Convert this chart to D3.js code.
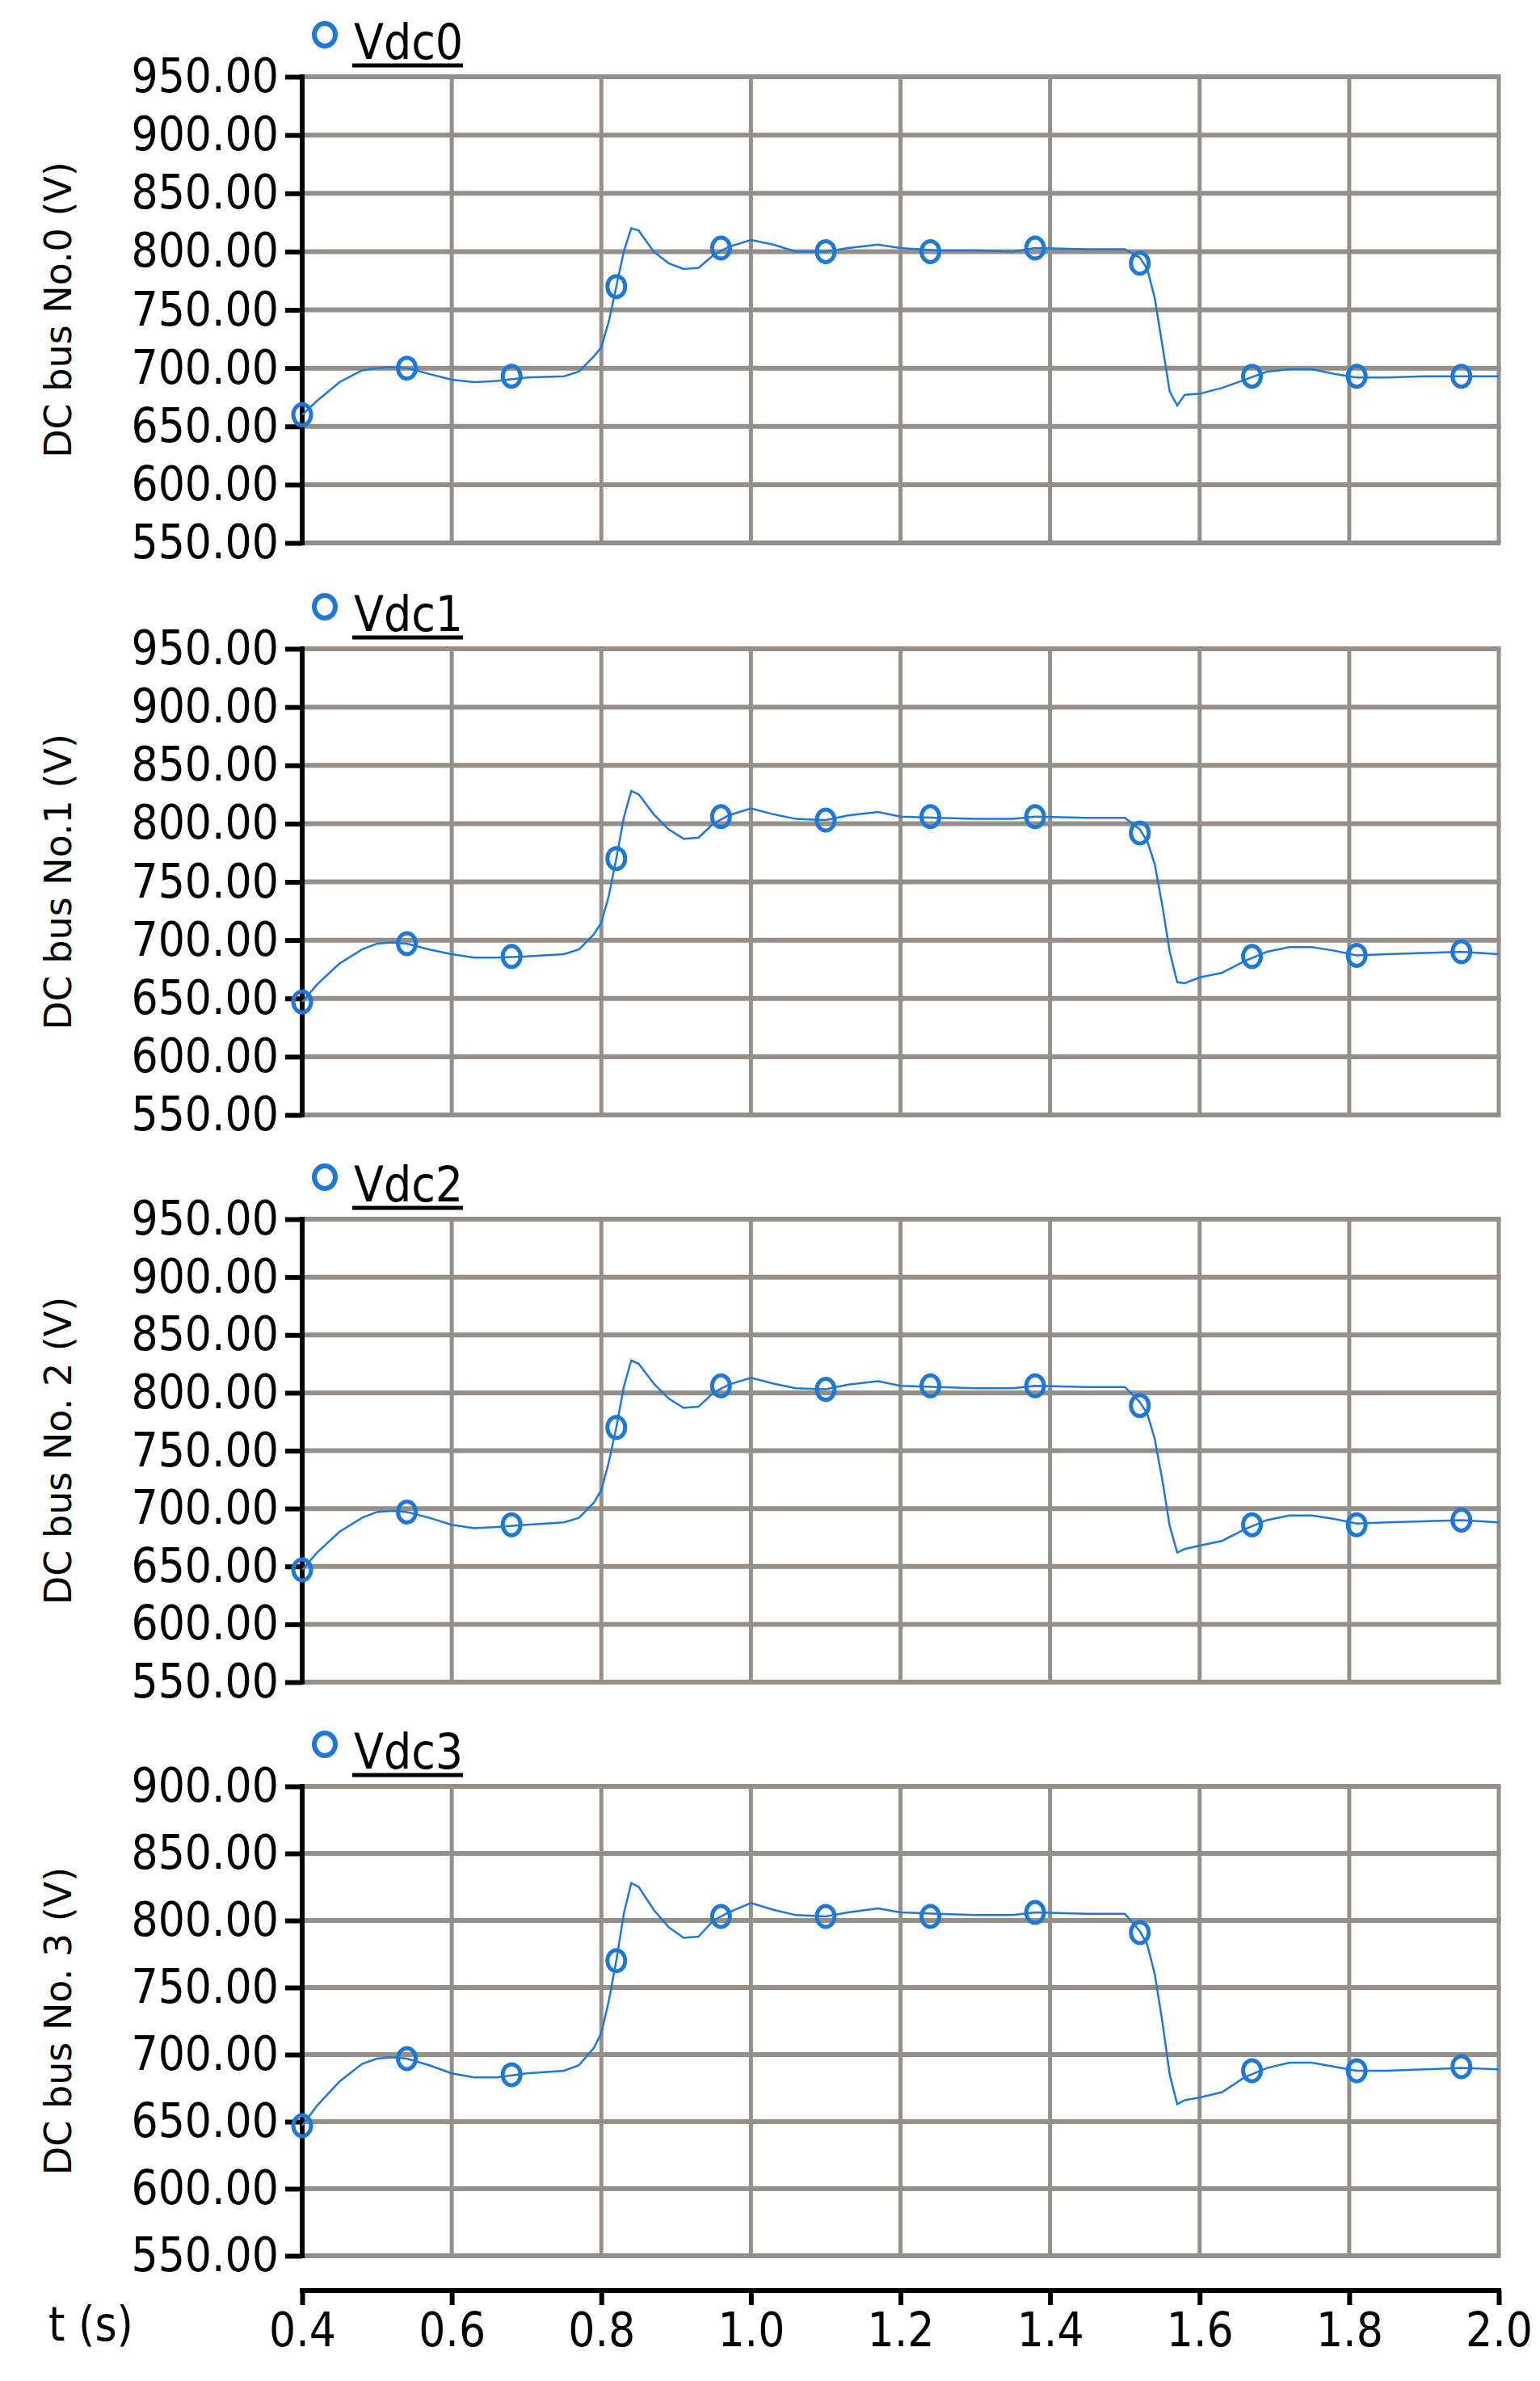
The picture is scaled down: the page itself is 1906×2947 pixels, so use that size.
<!DOCTYPE html>
<html>
<head>
<meta charset="utf-8">
<script src="https://cdn.jsdelivr.net/npm/d3@7"></script>
<style>
  body { margin: 0; background: #fff; }
</style>
</head>
<body>
<div id="chart"></div>
<script>
// time (s) of each recorded point
let t0 = [0.40, 0.42, 0.45, 0.48, 0.50, 0.52, 0.54, 0.57, 0.60, 0.63, 0.66, 0.70, 0.75, 0.77, 0.79, 0.80, 0.81, 0.82, 0.83, 0.84, 0.85, 0.87, 0.89, 0.91, 0.93, 0.95, 0.97, 1.00, 1.03, 1.06, 1.10, 1.13, 1.17, 1.20, 1.25, 1.30, 1.35, 1.38, 1.45, 1.50, 1.52, 1.53, 1.54, 1.55, 1.56, 1.57, 1.58, 1.60, 1.63, 1.66, 1.69, 1.72, 1.75, 1.78, 1.81, 1.85, 1.90, 1.95, 2.00]
let vdc0 = [660, 672, 688, 698, 700, 701, 700, 695, 690, 688, 689, 692, 693, 697, 710, 718, 740, 770, 800, 820, 818, 800, 790, 785, 786, 797, 804, 810, 806, 800, 800, 803, 806, 803, 801, 801, 800, 803, 802, 802, 795, 785, 760, 720, 680, 668, 677, 678, 683, 690, 697, 699, 699, 695, 692, 692, 693, 693, 693]
let vdc1 = [647, 662, 680, 692, 697, 698, 697, 692, 688, 685, 685, 686, 688, 692, 705, 715, 738, 770, 805, 828, 825, 808, 795, 787, 788, 800, 807, 813, 808, 804, 803, 807, 810, 806, 805, 804, 804, 806, 805, 805, 795, 785, 765, 730, 690, 664, 663, 668, 672, 682, 690, 694, 694, 691, 687, 688, 689, 690, 688]
let vdc2 = [647, 662, 680, 692, 697, 698, 697, 692, 686, 683, 684, 686, 688, 692, 705, 716, 740, 770, 805, 828, 825, 808, 795, 787, 788, 800, 807, 813, 808, 804, 803, 807, 810, 806, 805, 804, 804, 806, 805, 805, 792, 782, 760, 725, 685, 662, 665, 668, 672, 682, 690, 694, 694, 691, 687, 688, 689, 690, 688]
let vdc3 = [647, 662, 680, 693, 697, 698, 697, 692, 686, 683, 683, 686, 688, 692, 705, 716, 740, 770, 805, 828, 825, 808, 795, 787, 788, 800, 806, 813, 808, 804, 803, 806, 809, 806, 805, 804, 804, 806, 805, 805, 792, 782, 760, 725, 685, 663, 666, 668, 672, 683, 690, 694, 694, 691, 688, 688, 689, 690, 689]

// markers drawn on each trace
let markT = [0.40, 0.54, 0.68, 0.82, 0.96, 1.10, 1.24, 1.38, 1.52, 1.67, 1.81, 1.95]
let mark0 = [660, 700, 693, 770, 803, 800, 800, 803, 790, 693, 693, 693]
let mark1 = [647, 697, 686, 770, 806, 803, 806, 806, 792, 686, 687, 690]
let mark2 = [647, 697, 686, 770, 806, 803, 806, 806, 789, 686, 686, 690]
let mark3 = [647, 697, 685, 770, 803, 803, 803, 806, 791, 688, 688, 691]

let names = ['Vdc0', 'Vdc1', 'Vdc2', 'Vdc3']
let titles = ['DC bus No.0 (V)', 'DC bus No.1 (V)', 'DC bus No. 2 (V)', 'DC bus No. 3 (V)']
let yTops = [950, 950, 950, 900]
let xTicks = [0.4, 0.6, 0.8, 1.0, 1.2, 1.4, 1.6, 1.8, 2.0]

let series = [vdc0, vdc1, vdc2, vdc3]
let marks = [mark0, mark1, mark2, mark3]
let panels = [[95, 672], [803, 1380], [1509, 2082], [2211, 2792]]

let width = 1906, height = 2947
let left = 374, right = 1855
let blue = '#1f78d6', grid = '#948f8a'
let cond = "'DejaVu Sans Condensed', 'DejaVu Sans', sans-serif"

let svg = d3.select('#chart').append('svg')
  .attr('width', width).attr('height', height)
  .style('background', '#fff')

let x = d3.scaleLinear().domain([0.4, 2.0]).range([left, right])

series.forEach((vals, i) => {
  let [top, bottom] = panels[i]
  let y = d3.scaleLinear().domain([550, yTops[i]]).range([bottom, top])
  let yTicks = d3.range(550, yTops[i] + 1, 50)
  let g = svg.append('g')

  // grid
  g.selectAll('.vg').data(xTicks.slice(1)).enter().append('line')
    .attr('x1', d => x(d)).attr('x2', d => x(d))
    .attr('y1', top).attr('y2', bottom)
    .attr('stroke', grid).attr('stroke-width', 5)
  g.selectAll('.hg').data(yTicks).enter().append('line')
    .attr('x1', left).attr('x2', right + 2.5)
    .attr('y1', d => y(d)).attr('y2', d => y(d))
    .attr('stroke', grid).attr('stroke-width', 6)

  // left axis
  let ax = g.append('g').attr('transform', 'translate(' + left + ',0)')
    .call(d3.axisLeft(y).tickValues(yTicks).tickFormat(d3.format('.2f')).tickSize(21).tickPadding(8))
  ax.select('.domain').attr('stroke', '#000').attr('stroke-width', 6)
    .attr('d', 'M0,' + (top - 3) + 'V' + (bottom + 3))
  ax.selectAll('.tick line').attr('stroke', '#000').attr('stroke-width', 6)
  ax.selectAll('.tick text').attr('fill', '#000')
    .style('font-family', cond).style('font-size', '58px')

  // trace
  let pts = t0.map((t, k) => [t, vals[k]])
  g.append('path').datum(pts)
    .attr('fill', 'none').attr('stroke', blue).attr('stroke-width', 2.5)
    .attr('d', d3.line().x(d => x(d[0])).y(d => y(d[1])))

  g.selectAll('.mk').data(markT.map((t, k) => [t, marks[i][k]])).enter().append('ellipse')
    .attr('cx', d => x(d[0])).attr('cy', d => y(d[1]))
    .attr('rx', 11).attr('ry', 13)
    .attr('fill', 'none').attr('stroke', blue).attr('stroke-width', 5)

  // legend
  let ly = top - 52
  g.append('ellipse').attr('cx', 402).attr('cy', ly)
    .attr('rx', 13).attr('ry', 14)
    .attr('fill', 'none').attr('stroke', blue).attr('stroke-width', 6)
  g.append('text').attr('x', 438).attr('y', ly + 30)
    .style('font-family', cond).style('font-size', '60px')
    .text(names[i])
  g.append('line').attr('x1', 436).attr('x2', 573)
    .attr('y1', ly + 38).attr('y2', ly + 38)
    .attr('stroke', '#000').attr('stroke-width', 5)

  // y title
  g.append('text')
    .attr('transform', 'translate(88,' + (top + bottom) / 2 + ') rotate(-90)')
    .attr('text-anchor', 'middle')
    .style('font-family', "'DejaVu Sans', sans-serif").style('font-size', '46px')
    .text(titles[i])
})

// bottom time axis
let xa = svg.append('g').attr('transform', 'translate(0,2835)')
  .call(d3.axisBottom(x).tickValues(xTicks).tickFormat(d3.format('.1f')).tickSize(18).tickPadding(10))
xa.select('.domain').attr('stroke', '#000').attr('stroke-width', 6)
  .attr('d', 'M' + (left - 3) + ',0H' + (right + 3))
xa.selectAll('.tick line').attr('stroke', '#000').attr('stroke-width', 6)
xa.selectAll('.tick text').attr('fill', '#000')
  .style('font-family', cond).style('font-size', '58px')

svg.append('text').attr('x', 60).attr('y', 2897)
  .style('font-family', cond).style('font-size', '58px')
  .text('t (s)')
</script>
</body>
</html>
